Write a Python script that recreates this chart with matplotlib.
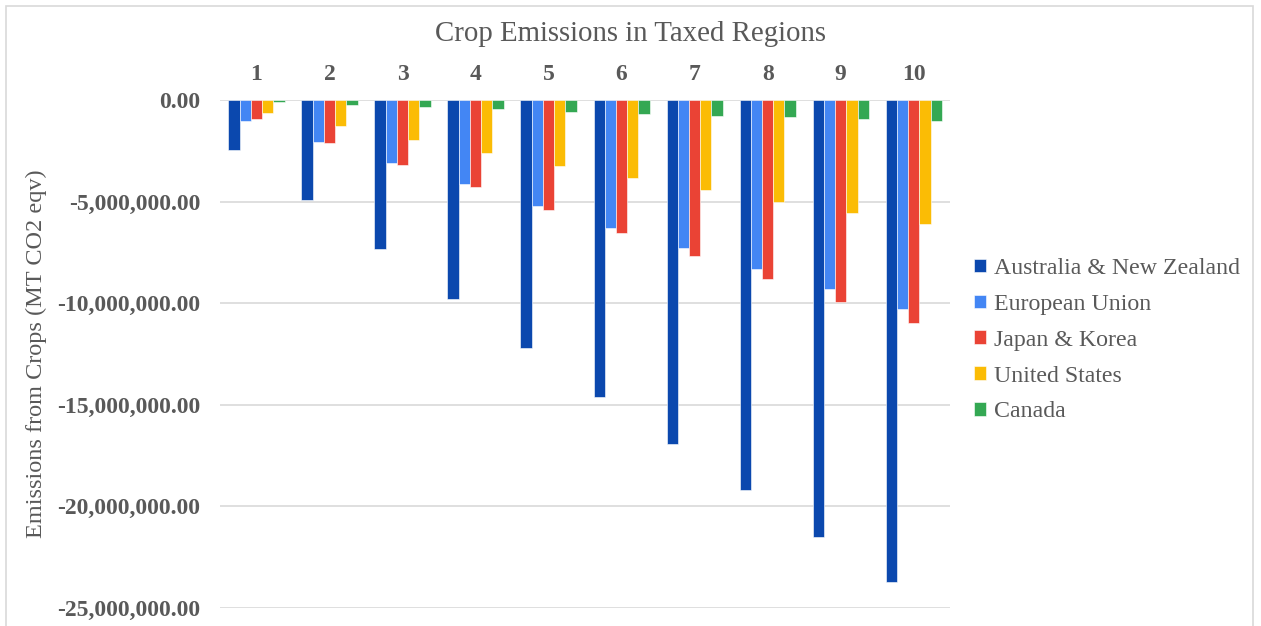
import matplotlib.pyplot as plt
import matplotlib.patches as patches
import numpy as np
from matplotlib.ticker import FuncFormatter

plt.rcParams["font.family"] = ["Liberation Serif", "DejaVu Serif"]

years = [1, 2, 3, 4, 5, 6, 7, 8, 9, 10]
regions = ["Australia & New Zealand", "European Union", "Japan & Korea",
           "United States", "Canada"]
colors = ["#0B48AE", "#4386F4", "#EA4335", "#FBBC05", "#34A853"]

anz = [-2.45e6, -4.9e6, -7.35e6, -9.8e6, -12.2e6, -14.6e6, -16.95e6, -19.2e6, -21.5e6, -23.7e6]
eu = [-1.03e6, -2.07e6, -3.1e6, -4.15e6, -5.2e6, -6.28e6, -7.3e6, -8.3e6, -9.3e6, -10.3e6]
jk = [-0.93e6, -2.1e6, -3.2e6, -4.3e6, -5.4e6, -6.55e6, -7.7e6, -8.8e6, -9.95e6, -11.0e6]
us = [-0.65e6, -1.3e6, -1.95e6, -2.6e6, -3.25e6, -3.85e6, -4.45e6, -5.0e6, -5.55e6, -6.1e6]
canada = [-0.1e6, -0.25e6, -0.36e6, -0.46e6, -0.6e6, -0.7e6, -0.8e6, -0.86e6, -0.96e6, -1.03e6]
series = [anz, eu, jk, us, canada]

gray = "#595959"
fig = plt.figure(figsize=(12.61, 6.26), dpi=100)
ax = fig.add_axes([0.1745, 0.0288, 0.579, 0.8115])

x = np.arange(len(years))
w = 0.154
for i, (vals, name, c) in enumerate(zip(series, regions, colors)):
    ax.bar(x + (i - 2) * w, vals, w, color=c, label=name,
           edgecolor="white", linewidth=0.4, zorder=3)

ax.set_xlim(-0.5, len(years) - 0.5)
ax.set_ylim(-25e6, 0)
ax.set_yticks(np.arange(-25e6, 1, 5e6))
ax.yaxis.set_major_formatter(FuncFormatter(lambda v, p: f"{v:,.2f}"))
ax.grid(axis="y", color="#d9d9d9", linewidth=1.2, zorder=0)
ax.set_axisbelow(True)

ax.xaxis.tick_top()
ax.set_xticks(x)
ax.set_xticklabels(years)
ax.tick_params(axis="both", length=0, colors=gray, labelsize=17)
ax.tick_params(axis="x", pad=11)
ax.tick_params(axis="y", pad=14)
for lab in ax.get_xticklabels() + ax.get_yticklabels():
    lab.set_fontweight("bold")
for s in ax.spines.values():
    s.set_visible(False)

ax.set_ylabel("Emissions from Crops (MT CO2 eqv)", fontsize=17.5, color=gray)
ax.yaxis.set_label_coords(-0.237, 0.5)
fig.text(0.5, 0.946, "Crop Emissions in Taxed Regions", ha="center", va="center",
         fontsize=20.8, color=gray)

leg = ax.legend(loc="center left", bbox_to_anchor=(1.003, 0.527), frameon=False,
                fontsize=17.2, handlelength=0.5, handleheight=0.5,
                handletextpad=0.35, labelspacing=0.62)
for t in leg.get_texts():
    t.set_color(gray)

# light frame around the chart area
fig.patches.append(patches.Rectangle((0.005, -0.05), 0.989, 1.04, transform=fig.transFigure,
                                     fill=False, edgecolor="#d9d9d9", linewidth=1.2))

fig.savefig("out.png", dpi=100)
